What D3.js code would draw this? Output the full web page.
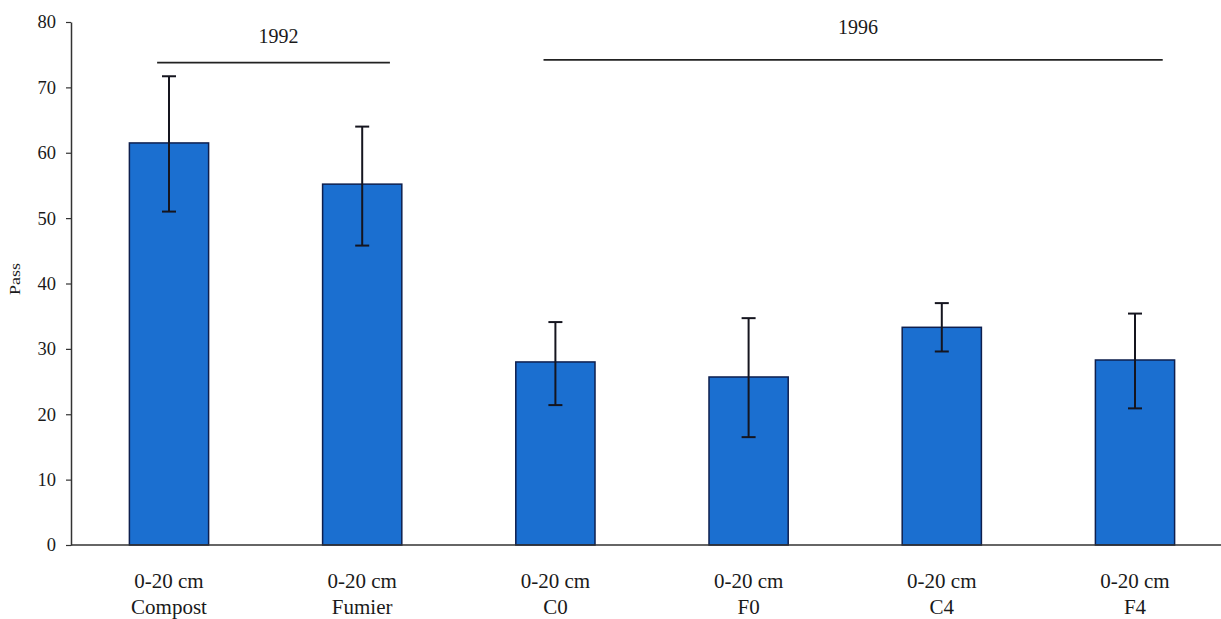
<!DOCTYPE html>
<html>
<head>
<meta charset="utf-8">
<script src="https://cdn.jsdelivr.net/npm/d3@7"></script>
<style>
  html, body { margin: 0; padding: 0; background: #ffffff; }
  svg { display: block; }
</style>
</head>
<body>
<svg id="chart" width="1221" height="619"></svg>
<script>
// ---- data ----
const depths = ["0-20 cm", "0-20 cm", "0-20 cm", "0-20 cm", "0-20 cm", "0-20 cm"];
const treatments = ["Compost", "Fumier", "C0", "F0", "C4", "F4"];
const means = [61.5, 55.2, 28.0, 25.7, 33.3, 28.3];
const errHigh = [71.7, 64.0, 34.1, 34.7, 37.0, 35.4];
const errLow = [51.0, 45.8, 21.4, 16.5, 29.6, 20.9];
const yTicks = [0, 10, 20, 30, 40, 50, 60, 70, 80];
const yLabel = "Pass";
const groupLabels = ["1992", "1996"];
const groupFirst = ["Compost", "C0"];
const groupLast = ["Fumier", "F4"];
const groupLineLevel = [73.8, 74.2];
const groupTextLevel = [76.8, 78.1];

const FONT = "'Liberation Serif', 'Times New Roman', 'DejaVu Serif', serif";

// ---- layout ----
const svg = d3.select("#chart");
const axisX = 71, plotRight = 1221;
const x = d3.scaleBand().domain(treatments).range([72.4, 1231.6]).paddingInner(0.59).paddingOuter(0.295);
const y = d3.scaleLinear().domain([0, 80]).range([545, 22]);
const bw = x.bandwidth();

// bars
svg.append("g").selectAll("rect").data(treatments).join("rect")
  .attr("x", d => x(d))
  .attr("y", (d, i) => y(means[i]))
  .attr("width", bw)
  .attr("height", (d, i) => y(0) - y(means[i]))
  .attr("fill", "#1b6fd0")
  .attr("stroke", "#0e1f4e")
  .attr("stroke-width", 1.5);

// error bars
const eb = svg.append("g").attr("stroke", "#15151f").attr("stroke-width", 2).attr("fill", "none");
treatments.forEach((t, i) => {
  const cx = x(t) + bw / 2;
  eb.append("line").attr("x1", cx).attr("x2", cx).attr("y1", y(errHigh[i])).attr("y2", y(errLow[i]));
  eb.append("line").attr("x1", cx - 7).attr("x2", cx + 7).attr("y1", y(errHigh[i])).attr("y2", y(errHigh[i]));
  eb.append("line").attr("x1", cx - 7).attr("x2", cx + 7).attr("y1", y(errLow[i])).attr("y2", y(errLow[i]));
});

// y axis
const yAxis = svg.append("g").attr("transform", `translate(${axisX},0)`)
  .call(d3.axisLeft(y).tickValues(yTicks).tickSize(5).tickSizeOuter(0).tickPadding(10));
yAxis.attr("font-family", null).attr("font-size", null);
yAxis.select(".domain").attr("stroke", "#333").attr("stroke-width", 1.5);
yAxis.selectAll(".tick line").attr("stroke", "#333").attr("stroke-width", 1.2);
yAxis.selectAll(".tick text")
  .style("font-family", FONT)
  .style("font-size", "18.5px").attr("fill", "#1a1a1a");

// x axis line
svg.append("line")
  .attr("x1", axisX).attr("x2", plotRight)
  .attr("y1", y(0)).attr("y2", y(0))
  .attr("stroke", "#333").attr("stroke-width", 1.5);

// category labels
const cat = svg.append("g");
treatments.forEach((t, i) => {
  const cx = x(t) + bw / 2;
  const tx = cat.append("text").attr("text-anchor", "middle")
    .style("font-family", FONT).style("font-size", "21px").attr("fill", "#1a1a1a");
  tx.append("tspan").attr("x", cx).attr("y", 588).text(depths[i]);
  tx.append("tspan").attr("x", cx).attr("y", 614).text(t);
});

// y label
svg.append("text")
  .attr("transform", "translate(20,279) rotate(-90) scale(1,0.8)")
  .attr("text-anchor", "middle")
  .style("font-family", FONT).style("font-size", "18px").attr("fill", "#1a1a1a")
  .text(yLabel);

// group lines
groupLabels.forEach((g, i) => {
  const x1 = x(groupFirst[i]) + bw * 0.35;
  const x2 = x(groupLast[i]) + bw * 0.85;
  svg.append("line")
    .attr("x1", x1).attr("x2", x2)
    .attr("y1", y(groupLineLevel[i])).attr("y2", y(groupLineLevel[i]))
    .attr("stroke", "#222").attr("stroke-width", 1.8);
  svg.append("text")
    .attr("x", (x1 + x2) / 2 + 5)
    .attr("y", y(groupTextLevel[i]))
    .attr("text-anchor", "middle")
    .style("font-family", FONT).style("font-size", "20px").attr("fill", "#1a1a1a")
    .text(g);
});
</script>
</body>
</html>
